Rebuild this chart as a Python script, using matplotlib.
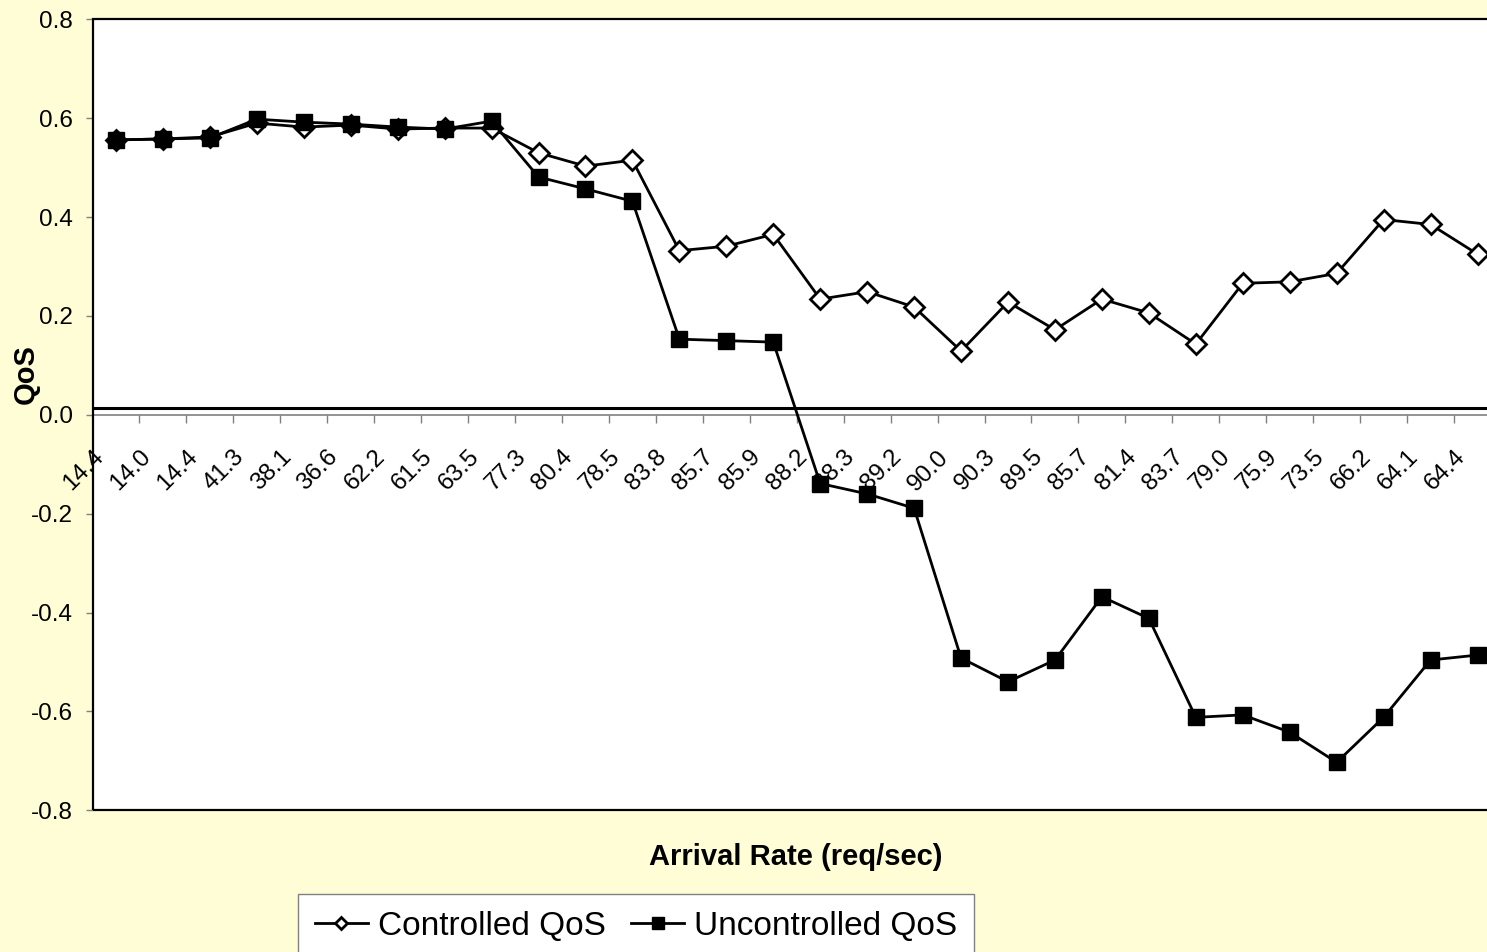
import matplotlib
matplotlib.use("Agg")
from matplotlib import pyplot as plt
from matplotlib.patches import Rectangle
from matplotlib.ticker import FormatStrFormatter, FixedLocator
import matplotlib.transforms as mtransforms
import numpy as np

plt.rcParams['font.family'] = ['Liberation Sans', 'DejaVu Sans']
plt.rcParams['axes.unicode_minus'] = False

# arrival rates used as category labels
arrival_rates = ['14.4', '14.0', '14.4', '41.3', '38.1', '36.6', '62.2', '61.5',
                 '63.5', '77.3', '80.4', '78.5', '83.8', '85.7', '85.9', '88.2',
                 '88.3', '89.2', '90.0', '90.3', '89.5', '85.7', '81.4', '83.7',
                 '79.0', '75.9', '73.5', '66.2', '64.1', '64.4']

controlled_qos = [0.556, 0.558, 0.562, 0.590, 0.582, 0.586, 0.578, 0.580,
                  0.580, 0.530, 0.503, 0.515, 0.332, 0.341, 0.365, 0.234,
                  0.249, 0.218, 0.129, 0.228, 0.172, 0.234, 0.206, 0.143,
                  0.266, 0.269, 0.286, 0.395, 0.385, 0.325]

uncontrolled_qos = [0.556, 0.558, 0.560, 0.598, 0.592, 0.588, 0.582, 0.578,
                    0.594, 0.481, 0.457, 0.432, 0.153, 0.150, 0.147, -0.139,
                    -0.160, -0.189, -0.492, -0.540, -0.496, -0.368, -0.412, -0.612,
                    -0.607, -0.642, -0.703, -0.612, -0.496, -0.486]

reference_level = 0.013
y_ticks = [-0.8, -0.6, -0.4, -0.2, 0.0, 0.2, 0.4, 0.6, 0.8]

W, H = 1487, 952
fig = plt.figure(figsize=(W / 100, H / 100), dpi=100)
fig.patch.set_facecolor('#FFFDD6')

# plot area runs a little past the right edge of the canvas
ax = fig.add_axes([92.5 / W, (H - 810.3) / H, 1408.5 / W, 791 / H])
ax.set_facecolor('white')

x = np.arange(len(arrival_rates))
ax.plot(x, controlled_qos, color='black', lw=2, marker='D', ms=10,
        mfc='white', mec='black', mew=2, label='Controlled QoS', zorder=4)
ax.plot(x, uncontrolled_qos, color='black', lw=2, marker='s', ms=11,
        mfc='black', mec='black', mew=1, label='Uncontrolled QoS', zorder=5)
ax.axhline(reference_level, color='black', lw=2.2, zorder=3)

ax.set_xlim(-0.5, len(arrival_rates) - 0.5)
ax.set_ylim(-0.8, 0.8)

# border of the plot area
ax.add_patch(Rectangle((0, 0), 1, 1, transform=ax.transAxes, fill=False,
                       ec='black', lw=1.6, clip_on=False, zorder=6))
for side in ['top', 'right', 'left']:
    ax.spines[side].set_visible(False)
ax.spines['bottom'].set_position(('data', 0))
ax.spines['bottom'].set_color('#808080')
ax.spines['bottom'].set_linewidth(1.2)

ax.set_yticks(y_ticks)
ax.yaxis.set_major_formatter(FormatStrFormatter('%.1f'))
ax.tick_params(axis='y', direction='out', length=5, width=1, color='#808080',
               labelsize=17.5, pad=9)

ax.xaxis.set_major_locator(FixedLocator(x))
ax.xaxis.set_minor_locator(FixedLocator(x[:-1] + 0.5))
ax.set_xticklabels(arrival_rates)
ax.tick_params(axis='x', which='major', length=0, labelsize=17.5, pad=28)
ax.tick_params(axis='x', which='minor', direction='out', length=5.5, width=1,
               color='#808080')
shift = mtransforms.ScaledTranslation(-0.16, 0, fig.dpi_scale_trans)
for lbl in ax.get_xticklabels():
    lbl.set_rotation(45)
    lbl.set_ha('right')
    lbl.set_va('center')
    lbl.set_rotation_mode('anchor')
    lbl.set_transform(lbl.get_transform() + shift)

fig.text(26 / W, 1 - 374 / H, 'QoS', rotation=90, fontsize=21,
         fontweight='bold', ha='center', va='center')
fig.text(795.5 / W, 1 - 857 / H, 'Arrival Rate (req/sec)', fontsize=21,
         fontweight='bold', ha='center', va='center')

leg = fig.legend(loc='upper left', bbox_to_anchor=(298 / W, 1 - 894 / H),
                 ncol=2, fontsize=24, frameon=True, fancybox=False,
                 handlelength=1.6, handletextpad=0.3, columnspacing=0.75,
                 borderpad=0.5, borderaxespad=0)
leg.get_frame().set_edgecolor('#808080')
leg.get_frame().set_linewidth(1)
leg.get_frame().set_facecolor('white')
leg.get_frame().set_alpha(1)
leg.legend_handles[0].set_markersize(6.5)
leg.legend_handles[1].set_markersize(8)

fig.savefig('out.png', dpi=100, facecolor=fig.get_facecolor())
